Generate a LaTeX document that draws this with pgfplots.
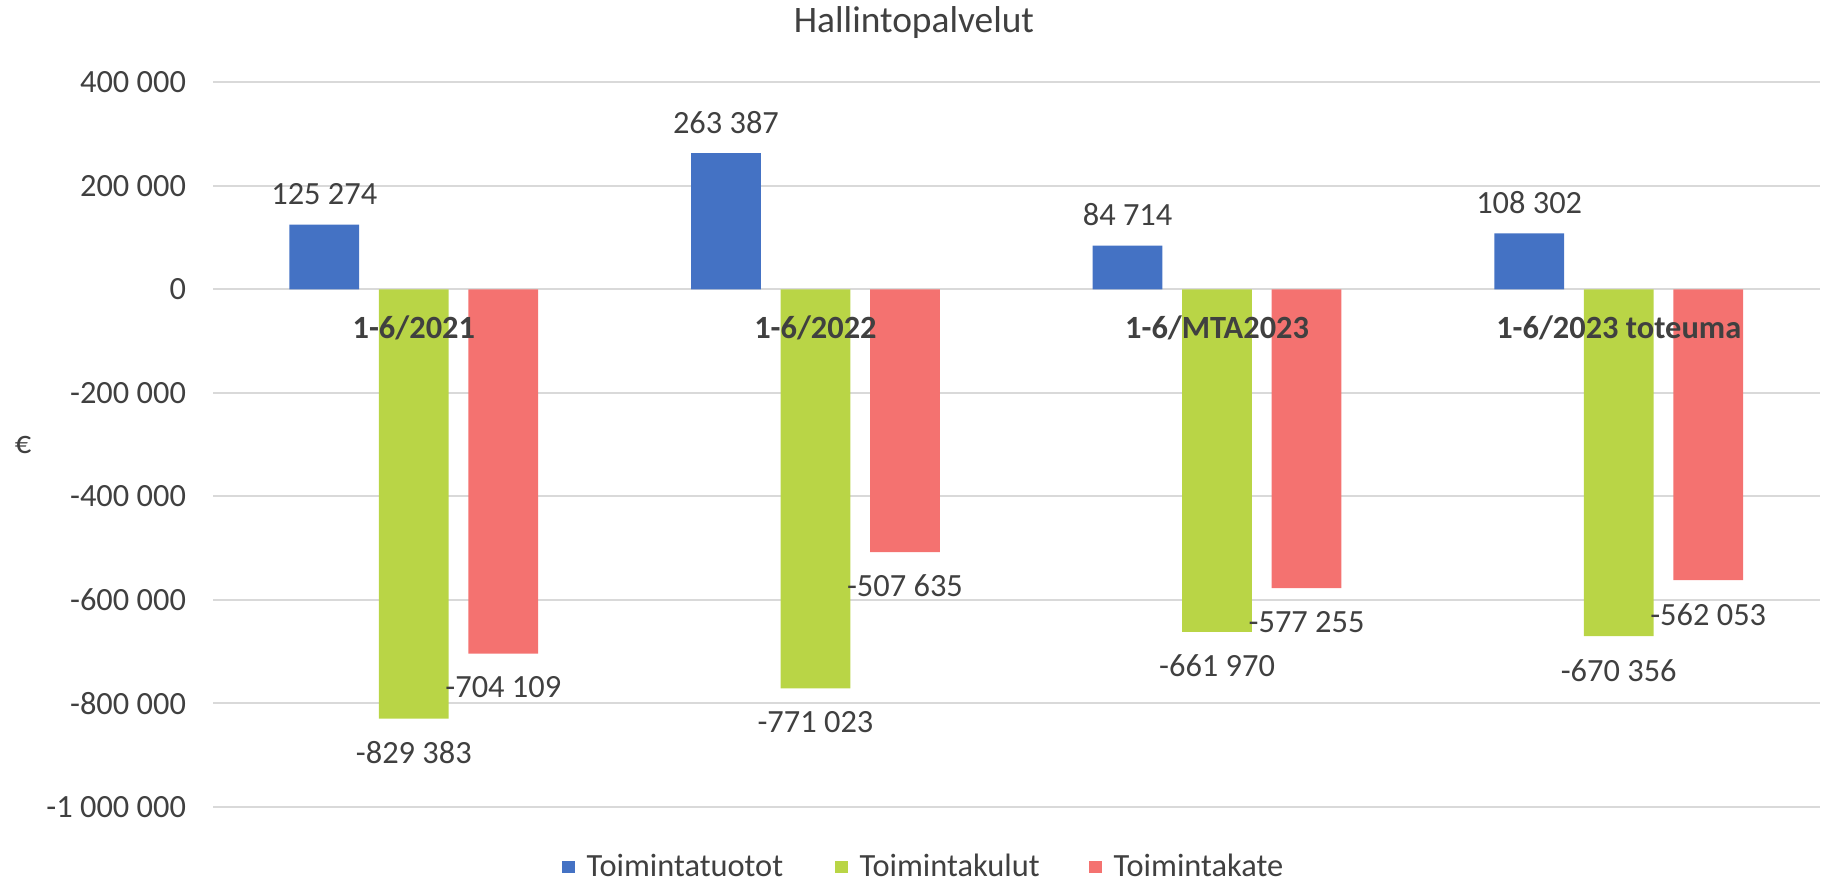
\documentclass[border=0pt]{standalone}
\usepackage{fontspec}
\setmainfont{Carlito}
\usepackage{pgfplots}
\pgfplotsset{compat=1.18}
\definecolor{cblue}{HTML}{4472C4}
\definecolor{cgreen}{HTML}{B9D546}
\definecolor{cred}{HTML}{F47270}
\definecolor{ctext}{HTML}{404040}
\definecolor{cgrid}{HTML}{D9D9D9}
\newcommand{\fs}{\fontsize{16.2}{19.4}\selectfont}
\pgfplotsset{frame/.style={
  at={(106.5pt,36.6pt)}, anchor=south west,
  scale only axis, width=803.25pt, height=362.2pt,
  xmin=-0.5, xmax=3.5, ymin=-1000000, ymax=400000}}
\begin{document}
\begin{tikzpicture}[x=1pt,y=1pt]
\begin{axis}[
  frame,
  ybar=9.85pt, bar width=34.9pt,
  xtick=\empty,
  ytick={-1000000,-800000,-600000,-400000,-200000,0,200000,400000},
  scaled y ticks=false,
  axis x line*=middle, axis y line*=left,
  x axis line style={draw=none}, y axis line style={draw=none},
  major tick length=0pt,
  ymajorgrids, grid style={cgrid, line width=0.9pt},
  yticklabel={\pgfmathprintnumber{\tick}},
  tick label style={font=\fs, text=ctext},
  yticklabel style={xshift=-10pt},
  nodes near coords,
  every node near coord/.append style={font=\fs, text=ctext, inner ysep=10.5pt, yshift=-0.8pt},
  legend style={at={(axis description cs:0.4429,-0.0831)}, anchor=center, draw=none, fill=none, font=\fs, text=ctext, legend columns=3, inner sep=0pt, column sep=4pt},
  legend image code/.code={\fill[#1] (0pt,-3.2pt) rectangle (6.4pt,3.2pt);},
  /pgf/number format/fixed,
  /pgf/number format/precision=0,
  /pgf/number format/1000 sep={\ },
  /pgf/number format/assume math mode=true,
]
\addplot[fill=cblue, draw=none] coordinates {(0,125274) (1,263387) (2,84714) (3,108302)};
\addlegendentry{Toimintatuotot\kern19.8pt}
\addplot[fill=cgreen, draw=none] coordinates {(0,-829383) (1,-771023) (2,-661970) (3,-670356)};
\addlegendentry{Toimintakulut\kern18.6pt}
\addplot[fill=cred, draw=none] coordinates {(0,-704109) (1,-507635) (2,-577255) (3,-562053)};
\addlegendentry{Toimintakate}
\end{axis}
\begin{axis}[
  frame,
  axis x line*=middle, axis y line=none,
  x axis line style={draw=none},
  major tick length=0pt,
  ytick=\empty,
  xtick={0,1,2,3},
  xticklabels={1-6/2021,1-6/2022,1-6/MTA2023,1-6/2023 toteuma},
  xticklabel style={font=\fs\bfseries, text=ctext, yshift=-9.75pt},
]
\end{axis}
\node[text=ctext, font=\fontsize{18.7}{22}\selectfont] at (457,428.5) {Hallintopalvelut};
\node[text=ctext, font=\fs] at (11.5,217.5) {€};
\path (0,0) rectangle (911.5,440);
\end{tikzpicture}
\end{document}
